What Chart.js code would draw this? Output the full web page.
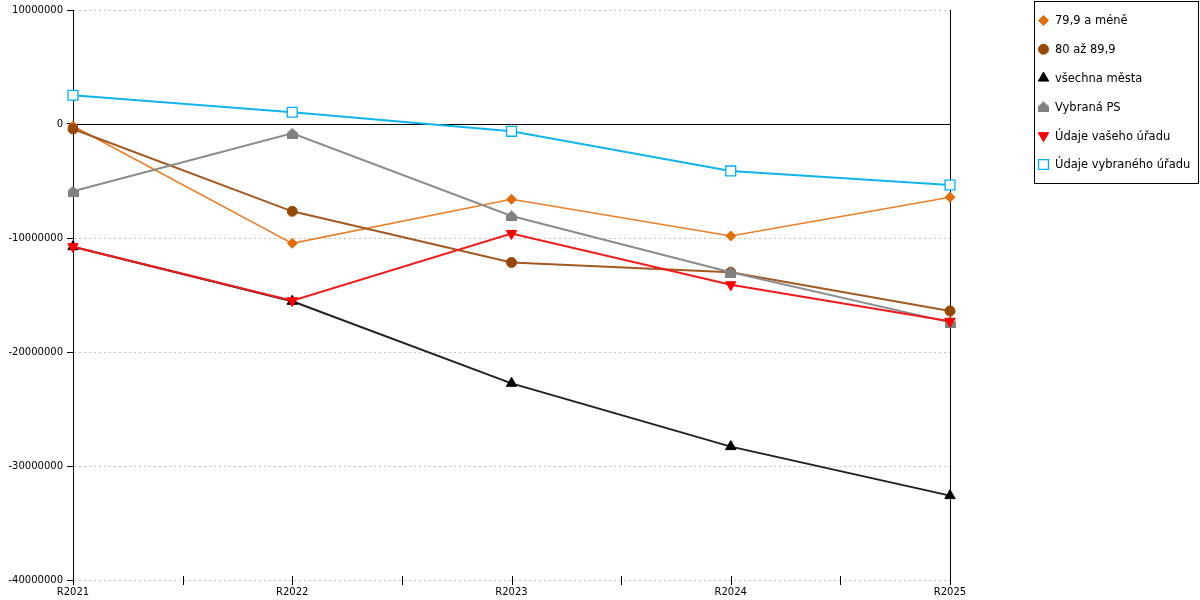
<!DOCTYPE html>
<html>
<head>
<meta charset="utf-8">
<script src="https://cdn.jsdelivr.net/npm/chart.js@4.4.1/dist/chart.umd.min.js"></script>
<style>
html, body { margin: 0; padding: 0; background: #fff; }
#wrap { width: 1200px; height: 600px; }
</style>
</head>
<body>
<div id="wrap"><canvas id="graf" width="1200" height="600"></canvas></div>
<script>
'use strict';

// hodnoty
const roky = ['R2021', 'R2022', 'R2023', 'R2024', 'R2025'];
const pod80 = [-180000, -10470000, -6600000, -9820000, -6430000];
const od80do90 = [-440000, -7660000, -12150000, -13000000, -16400000];
const vsechnaMesta = [-10760000, -15550000, -22750000, -28300000, -32600000];
const vybranaPS = [-5900000, -820000, -8070000, -13000000, -17400000];
const vasUrad = [-10760000, -15500000, -9600000, -14100000, -17300000];
const vybranyUrad = [2520000, 1030000, -640000, -4120000, -5350000];

const nazvy = ['79,9 a méně', '80 až 89,9', 'všechna města', 'Vybraná PS', 'Údaje vašeho úřadu', 'Údaje vybraného úřadu'];
const osaY = [10000000, 0, -10000000, -20000000, -30000000, -40000000];

// domeček pro Vybraná PS
function domecek(barva) {
    const c = document.createElement('canvas');
    c.width = 11;
    c.height = 11;
    const g = c.getContext('2d');
    g.fillStyle = barva;
    g.beginPath();
    g.moveTo(5.5, 0);
    g.lineTo(11, 5);
    g.lineTo(11, 11);
    g.lineTo(0, 11);
    g.lineTo(0, 5);
    g.closePath();
    g.fill();
    return c;
}

function rada(idx, data, car, znacka, styl, r, extra) {
    return Object.assign({
        label: nazvy[idx],
        data: data,
        borderColor: car,
        backgroundColor: znacka,
        pointBackgroundColor: znacka,
        pointBorderColor: znacka,
        pointBorderWidth: 1,
        pointStyle: styl,
        pointRadius: r,
        pointHoverRadius: r,
        borderWidth: 2,
        tension: 0,
        fill: false,
        order: 10 - idx,
    }, extra || {});
}

const datasets = [
    rada(0, pod80, '#ea7f28', '#e36c0a', 'rectRot', 5, {borderWidth: 1.6}),
    rada(1, od80do90, '#a25a22', '#974806', 'circle', 5),
    rada(2, vsechnaMesta, '#202020', '#000000', 'triangle', 6),
    rada(3, vybranaPS, '#8c8c8c', '#808080', domecek('#808080'), 6),
    rada(4, vasUrad, '#f41a1a', '#ff0000', 'triangle', 6, {pointRotation: 180}),
    rada(5, vybranyUrad, '#12b4ee', '#ffffff', 'rect', 7, {pointBorderColor: '#00b0f0', pointBorderWidth: 1.3}),
];

const ramecek = {
    id: 'ramecek',
    beforeDatasetsDraw(chart) {
        const {ctx, chartArea: a, scales: {x, y}} = chart;
        const y0 = Math.round(y.getPixelForValue(0)) + 0.5;
        const r = Math.round(a.right) + 0.5;
        ctx.save();
        ctx.strokeStyle = '#000';
        ctx.lineWidth = 1;
        ctx.beginPath();
        ctx.moveTo(a.left, y0);
        ctx.lineTo(a.right, y0);
        ctx.moveTo(r, a.top);
        ctx.lineTo(r, a.bottom + 5);
        ctx.moveTo(Math.round(a.left) + 0.5, a.bottom);
        ctx.lineTo(Math.round(a.left) + 0.5, a.bottom + 5);
        for (let i = 0.5; i < roky.length - 1; i += 0.5) {
            const px = Math.round(x.getPixelForValue(i)) + 0.5;
            ctx.moveTo(px, a.bottom - 4);
            ctx.lineTo(px, a.bottom + 5);
        }
        ctx.stroke();
        ctx.restore();
    },
    afterDraw(chart) {
        const ctx = chart.ctx;
        ctx.save();
        ctx.strokeStyle = '#000';
        ctx.lineWidth = 1;
        ctx.strokeRect(1034.5, 1.5, 164, 182);
        ctx.font = '11.5px "DejaVu Sans"';
        ctx.textBaseline = 'middle';
        ctx.textAlign = 'left';
        chart.data.datasets.forEach((ds, i) => {
            const ry = 20.5 + i * 28.8;
            ctx.fillStyle = ds.pointBackgroundColor;
            ctx.strokeStyle = ds.pointBorderColor;
            ctx.lineWidth = ds.pointBorderWidth;
            Chart.helpers.drawPoint(ctx, {
                pointStyle: ds.pointStyle,
                rotation: ds.pointRotation || 0,
                radius: ds.pointRadius,
                borderWidth: ds.pointBorderWidth,
            }, 1043.5, ry);
            ctx.fillStyle = '#000';
            ctx.fillText(ds.label, 1055, ry + 1);
        });
        ctx.restore();
    },
};

new Chart(document.getElementById('graf').getContext('2d'), {
    type: 'line',
    data: {labels: roky, datasets: datasets},
    options: {
        responsive: false,
        animation: false,
        layout: {padding: {left: 0, right: 250, top: 10, bottom: 0}},
        plugins: {legend: {display: false}, tooltip: {enabled: false}},
        scales: {
            x: {
                offset: false,
                grid: {display: false, drawTicks: false},
                border: {display: false},
                ticks: {
                    font: {family: 'DejaVu Sans', size: 10},
                    color: '#000',
                    padding: 6,
                    maxRotation: 0,
                    autoSkip: false,
                },
                afterFit(s) { s.height = 20; },
            },
            y: {
                min: osaY[osaY.length - 1],
                max: osaY[0],
                afterBuildTicks(s) { s.ticks = osaY.map(v => ({value: v})); },
                grid: {
                    color: c => (c.tick && c.tick.value === 0 ? 'rgba(0,0,0,0)' : '#c4c4c4'),
                    lineWidth: 1,
                    drawTicks: true,
                    tickLength: 6,
                    tickColor: '#000',
                },
                border: {display: true, color: '#000', width: 1, dash: [2, 3]},
                ticks: {
                    font: {family: 'DejaVu Sans', size: 10},
                    color: '#000',
                    padding: 4,
                    callback: v => String(v),
                },
                afterFit(s) { s.width = 73; },
            },
        },
    },
    plugins: [ramecek],
});
</script>
</body>
</html>
